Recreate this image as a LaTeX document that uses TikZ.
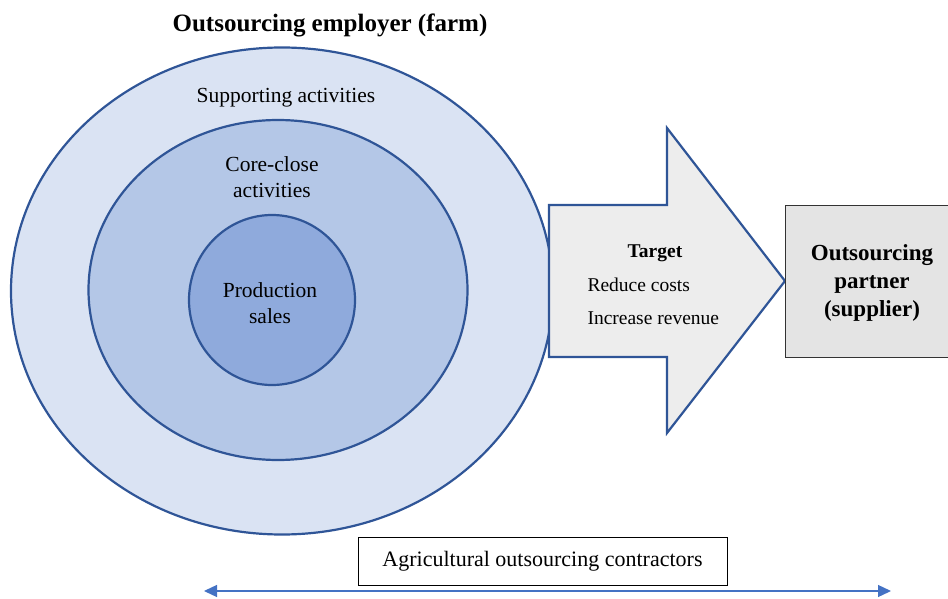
\documentclass[tikz,border=0pt]{standalone}
\usepackage{fontspec}
\setmainfont{Liberation Serif}
\usetikzlibrary{shapes.geometric,arrows.meta}
\definecolor{ringline}{HTML}{2F5597}
\definecolor{ringA}{HTML}{DAE3F3}
\definecolor{ringB}{HTML}{B4C7E7}
\definecolor{ringC}{HTML}{8FAADC}
\definecolor{arrowfill}{HTML}{EDEDED}
\definecolor{boxfill}{HTML}{E4E4E4}
\definecolor{spanline}{HTML}{4472C4}
\tikzset{
  ring/.style={ellipse, draw=ringline, line width=2.2pt, inner sep=0pt},
  lbl/.style={font=\fontsize{21.5}{25.5}\selectfont, align=center, text=black},
  arrowtxt/.style={font=\fontsize{19.5}{25}\selectfont, text=black},
  bold/.style={font=\bfseries\fontsize{23}{28}\selectfont, align=center}
}
\begin{document}
\begin{tikzpicture}[x=1pt,y=-1pt]
\useasboundingbox (0,0) rectangle (948,599);

% nested activity rings of the farm
\node[ring, fill=ringA, minimum width=542pt, minimum height=487pt] (outer) at (282,291) {};
\node[ring, fill=ringB, minimum width=379pt, minimum height=340pt] (middle) at (278,290) {};
\node[ring, fill=ringC, minimum width=166pt, minimum height=170pt] (inner) at (272,300) {};

\node[font=\bfseries\fontsize{25}{28}\selectfont] (title) at (330,25) {Outsourcing employer (farm)};
\node[lbl] (support) at (286,98) {Supporting activities};
\node[lbl] (core) at (272,177) {Core-close\\activities};
\node[lbl] (prod) at (270,303) {Production\\sales};

% block arrow towards the supplier
\draw[ringline, fill=arrowfill, line width=2.2pt, line join=miter]
  (549,205) -- (667,205) -- (667,128) -- (785,281) -- (667,433) -- (667,357) -- (549,357) -- cycle;
\node[arrowtxt, font=\bfseries\fontsize{19.5}{25}\selectfont] (target) at (655,253) {Target};
\node[arrowtxt, anchor=base west] (costs) at (584,291) {Reduce costs};
\node[arrowtxt, anchor=base west] (revenue) at (584,324) {Increase revenue};

% supplier box
\node[draw=black!80, fill=boxfill, line width=1pt, minimum width=170pt, minimum height=152pt, anchor=north west] (partner) at (785,205) {};
\node[bold] (partnertext) at (872,283) {Outsourcing\\partner\\(supplier)};

% contractors span
\node[draw=black, line width=1pt, fill=white, minimum width=369pt, minimum height=48pt, font=\fontsize{22}{25}\selectfont] (contractors) at (542.5,561) {Agricultural outsourcing contractors};
\coordinate (spanL) at (204,591);
\coordinate (spanR) at (891,591);
\draw[spanline, line width=1.3pt, {Triangle[length=13pt,width=12pt]}-{Triangle[length=13pt,width=12pt]}] (spanL) -- (spanR);
\end{tikzpicture}
\end{document}
